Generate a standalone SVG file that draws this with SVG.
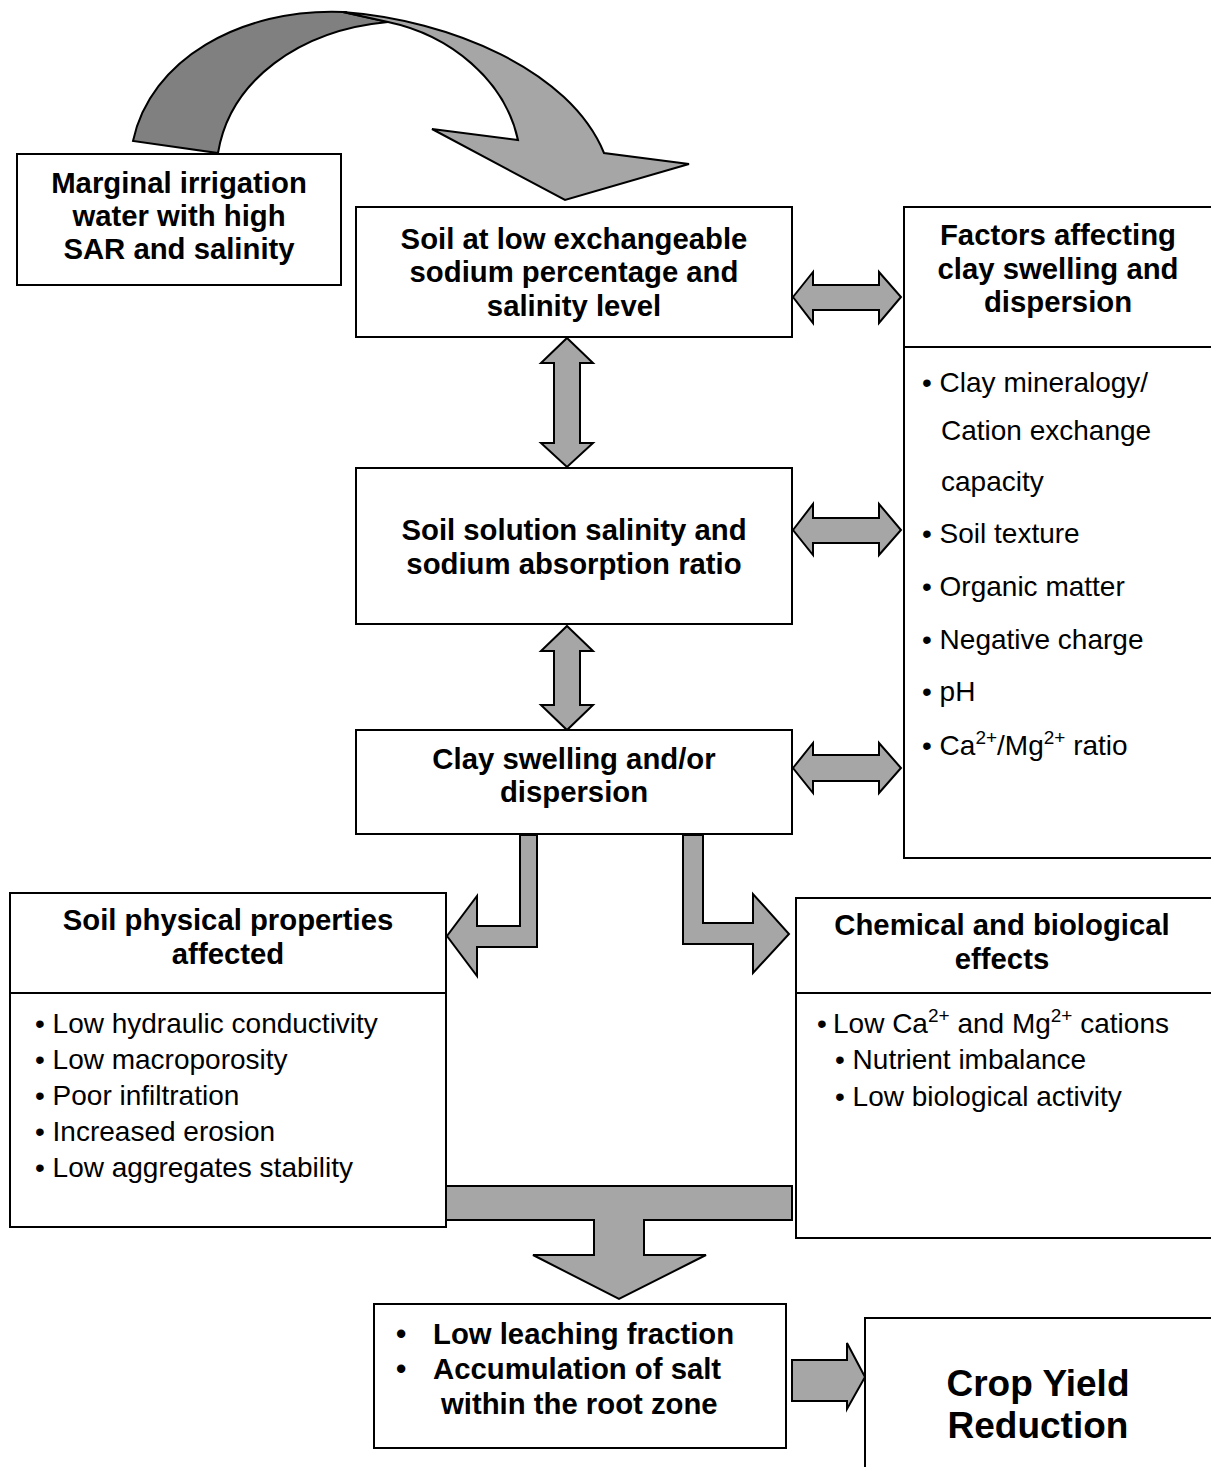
<svg xmlns="http://www.w3.org/2000/svg" width="1211" height="1467" viewBox="0 0 1211 1467">
<style>
.box{fill:#fff;stroke:#000;stroke-width:2}
.arr{fill:#a6a6a6;stroke:#000;stroke-width:2;stroke-linejoin:miter}
.dark{fill:#808080;stroke:#000;stroke-width:2}
.h{font-family:"Liberation Sans",Arial,sans-serif;font-weight:bold;font-size:29.3px;fill:#000;text-anchor:middle}
.t{font-family:"Liberation Sans",Arial,sans-serif;font-size:28px;fill:#000}
.tb{font-family:"Liberation Sans",Arial,sans-serif;font-weight:bold;font-size:29.3px;fill:#000}
.big{font-family:"Liberation Sans",Arial,sans-serif;font-weight:bold;font-size:37px;fill:#000;text-anchor:middle}
</style>
<rect width="1211" height="1467" fill="#fff"/>

<g id="connectors">
  <g id="curved-arrow">
    <path class="dark" d="M133,141 C150,60 240,8 343,12 L388,22 C300,30 230,80 218,153 Z"/>
    <path class="arr" d="M343,12 C450,20 570,70 604,153 L689,164 L565,200 L432,129 L518,140 C505,80 450,35 388,22 Z"/>
  </g>
  <path id="dbl-h1" class="arr" d="M793,297 L813,272 L813,285 L879,285 L879,272 L901,297 L879,323 L879,310 L813,310 L813,323 Z"/>
  <path id="dbl-v1" class="arr" d="M567,338 L593,363 L580,363 L580,443 L593,443 L567,467 L541,443 L554,443 L554,363 L541,363 Z"/>
  <path id="dbl-h2" class="arr" d="M793,530 L813,504 L813,518 L879,518 L879,504 L901,530 L879,555 L879,543 L813,543 L813,555 Z"/>
  <path id="dbl-v2" class="arr" d="M567,626 L593,651 L580,651 L580,705 L593,705 L567,730 L541,705 L554,705 L554,651 L541,651 Z"/>
  <path id="dbl-h3" class="arr" d="M793,768 L813,743 L813,755 L879,755 L879,743 L901,768 L879,793 L879,781 L813,781 L813,793 Z"/>
  <path id="bent-left" class="arr" d="M520,835 L537,835 L537,947 L477,947 L477,976 L447,936 L477,896 L477,926 L520,926 Z"/>
  <path id="bent-right" class="arr" d="M683,835 L703,835 L703,923 L753,923 L753,894 L789,934 L753,973 L753,944 L683,944 Z"/>
  <path id="t-arrow" class="arr" d="M446,1186 L792,1186 L792,1220 L644,1220 L644,1255 L706,1255 L619,1299 L533,1255 L594,1255 L594,1220 L446,1220 Z"/>
  <path id="right-arrow" class="arr" d="M792,1360 L847,1360 L847,1343 L865,1377 L847,1409 L847,1401 L792,1401 Z"/>
</g>

<g id="node-marginal">
  <rect class="box" x="17" y="154" width="324" height="131"/>
  <text class="h" x="179" y="193">Marginal irrigation</text>
  <text class="h" x="179" y="226">water with high</text>
  <text class="h" x="179" y="259">SAR and salinity</text>
</g>

<g id="node-soil-low">
  <rect class="box" x="356" y="207" width="436" height="130"/>
  <text class="h" x="574" y="249">Soil at low exchangeable</text>
  <text class="h" x="574" y="282">sodium percentage and</text>
  <text class="h" x="574" y="316">salinity level</text>
</g>

<g id="node-factors">
  <rect class="box" x="904" y="207" width="312" height="651"/>
  <line x1="904" y1="347" x2="1216" y2="347" stroke="#000" stroke-width="2"/>
  <text class="h" x="1058" y="245">Factors affecting</text>
  <text class="h" x="1058" y="279">clay swelling and</text>
  <text class="h" x="1058" y="312">dispersion</text>
  <text class="t" x="922" y="392">• Clay mineralogy/</text>
  <text class="t" x="941" y="440">Cation exchange</text>
  <text class="t" x="941" y="491">capacity</text>
  <text class="t" x="922" y="543">• Soil texture</text>
  <text class="t" x="922" y="596">• Organic matter</text>
  <text class="t" x="922" y="649">• Negative charge</text>
  <text class="t" x="922" y="701">• pH</text>
  <text class="t" x="922" y="755">• Ca<tspan font-size="19" dy="-11">2+</tspan><tspan dy="11">/Mg</tspan><tspan font-size="19" dy="-11">2+</tspan><tspan dy="11"> ratio</tspan></text>
</g>

<g id="node-solution">
  <rect class="box" x="356" y="468" width="436" height="156"/>
  <text class="h" x="574" y="540">Soil solution salinity and</text>
  <text class="h" x="574" y="574">sodium absorption ratio</text>
</g>

<g id="node-clay">
  <rect class="box" x="356" y="730" width="436" height="104"/>
  <text class="h" x="574" y="769">Clay swelling and/or</text>
  <text class="h" x="574" y="802">dispersion</text>
</g>

<g id="node-physical">
  <rect class="box" x="10" y="893" width="436" height="334"/>
  <line x1="10" y1="993" x2="446" y2="993" stroke="#000" stroke-width="2"/>
  <text class="h" x="228" y="930">Soil physical properties</text>
  <text class="h" x="228" y="964">affected</text>
  <text class="t" x="35" y="1033">• Low hydraulic conductivity</text>
  <text class="t" x="35" y="1069">• Low macroporosity</text>
  <text class="t" x="35" y="1105">• Poor infiltration</text>
  <text class="t" x="35" y="1141">• Increased erosion</text>
  <text class="t" x="35" y="1177">• Low aggregates stability</text>
</g>

<g id="node-chemical">
  <rect class="box" x="796" y="898" width="420" height="340"/>
  <line x1="796" y1="993" x2="1216" y2="993" stroke="#000" stroke-width="2"/>
  <text class="h" x="1002" y="935">Chemical and biological</text>
  <text class="h" x="1002" y="969">effects</text>
  <text class="t" x="817" y="1033">•<tspan x="833">Low Ca</tspan><tspan font-size="19" dy="-11">2+</tspan><tspan dy="11"> and Mg</tspan><tspan font-size="19" dy="-11">2+</tspan><tspan dy="11"> cations</tspan></text>
  <text class="t" x="835" y="1069">• Nutrient imbalance</text>
  <text class="t" x="835" y="1106">• Low biological activity</text>
</g>

<g id="node-leaching">
  <rect class="box" x="374" y="1304" width="412" height="144"/>
  <text class="tb" x="396" y="1344">•</text>
  <text class="tb" x="433" y="1344">Low leaching fraction</text>
  <text class="tb" x="396" y="1379">•</text>
  <text class="tb" x="433" y="1379">Accumulation of salt</text>
  <text class="tb" x="441" y="1414">within the root zone</text>
</g>

<g id="node-crop">
  <rect class="box" x="865" y="1318" width="352" height="155"/>
  <text class="big" x="1038" y="1396">Crop Yield</text>
  <text class="big" x="1038" y="1438">Reduction</text>
</g>
</svg>
